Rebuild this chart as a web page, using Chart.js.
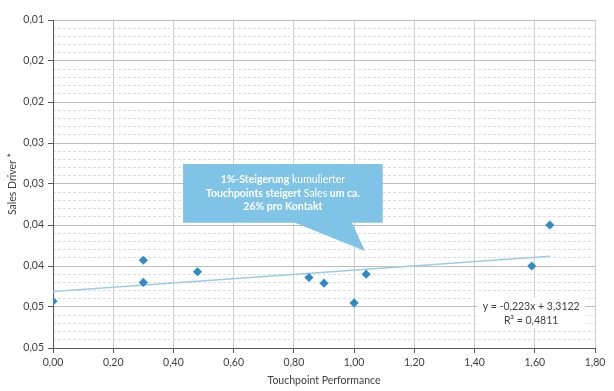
<!DOCTYPE html>
<html>
<head>
<meta charset="utf-8">
<script src="https://cdn.jsdelivr.net/npm/chart.js@4"></script>
<style>
  html, body { margin: 0; padding: 0; background: #fff; }
  #wrap { width: 614px; height: 391px; }
</style>
</head>
<body>
<div id="wrap"><canvas id="chart"></canvas></div>
<script>
// --- Daten ---
const touchpoints = [0.00, 0.30, 0.30, 0.48, 0.85, 0.90, 1.00, 1.04, 1.59, 1.65];
const salesDriver = [0.0443, 0.0393, 0.0420, 0.0407, 0.0414, 0.0421, 0.0445, 0.0410, 0.0400, 0.0350];

// lineare Trendlinie (Endpunkte)
const trendX = [0.00, 1.65];
const trendY = [0.0431, 0.0388];

const xTickLabels = ['0,00', '0,20', '0,40', '0,60', '0,80', '1,00', '1,20', '1,40', '1,60', '1,80'];
const yTickLabels = ['0,01', '0,02', '0,02', '0,03', '0,03', '0,04', '0,04', '0,05', '0,05'];

const calloutLines = [
  [['1%-Steigerung', true], [' kumulierter', false]],
  [['Touchpoints steigert', true], [' Sales', false], [' um ca.', true]],
  [['26% pro Kontakt', true]]
];
const equationLines = ['y = -0,223x + 3,3122', 'R\u00b2 = 0,4811'];

const FONT = 'Lato, "Open Sans", sans-serif';
const TEXT = '#404040';

// Sprechblase + Gleichung werden über die Skalen positioniert
const annotations = {
  id: 'annotations',
  afterDatasetsDraw(chart) {
    const { ctx } = chart;
    const xs = chart.scales.x, ys = chart.scales.y;
    const px = v => xs.getPixelForValue(v);
    const py = v => ys.getPixelForValue(v);

    // Gleichung + R²
    ctx.save();
    ctx.fillStyle = '#fff';
    ctx.fillRect(px(1.41), py(0.0439), px(1.767) - px(1.41), py(0.0476) - py(0.0439));
    ctx.fillStyle = TEXT;
    ctx.font = '10.5px ' + FONT;
    ctx.textAlign = 'center';
    ctx.textBaseline = 'middle';
    ctx.fillText(equationLines[0], px(1.588), py(0.0450));
    ctx.fillText(equationLines[1], px(1.588), py(0.0466));
    ctx.restore();

    // Sprechblase
    const l = px(0.432), r = px(1.095), t = py(0.02756), b = py(0.03472);
    const baseL = px(0.804), baseR = px(0.993);
    const tipX = px(1.036), tipY = py(0.03817);
    ctx.save();
    ctx.beginPath();
    ctx.moveTo(l, t);
    ctx.lineTo(r, t);
    ctx.lineTo(r, b);
    ctx.lineTo(baseR, b);
    ctx.lineTo(tipX, tipY);
    ctx.lineTo(baseL, b);
    ctx.lineTo(l, b);
    ctx.closePath();
    ctx.fillStyle = '#7fc3e7';
    ctx.fill();

    ctx.fillStyle = '#fff';
    ctx.textBaseline = 'middle';
    ctx.textAlign = 'left';
    const cx = (l + r) / 2;
    const lineH = 13.5;
    const y0 = (t + b) / 2 - lineH;
    calloutLines.forEach((segs, i) => {
      let w = 0;
      segs.forEach(([txt, bold]) => {
        ctx.font = (bold ? 'bold ' : '') + '10.5px ' + FONT;
        w += ctx.measureText(txt).width;
      });
      let x = cx - w / 2;
      segs.forEach(([txt, bold]) => {
        ctx.font = (bold ? 'bold ' : '') + '10.5px ' + FONT;
        ctx.fillText(txt, x, y0 + i * lineH);
        x += ctx.measureText(txt).width;
      });
    });
    ctx.restore();
  }
};

const points = touchpoints.map((x, i) => ({ x: x, y: salesDriver[i] }));
const trend = trendX.map((x, i) => ({ x: x, y: trendY[i] }));

new Chart(document.getElementById('chart'), {
  type: 'scatter',
  data: {
    datasets: [
      {
        label: 'Sales Driver',
        data: points,
        pointStyle: 'rectRot',
        pointRadius: 4.6,
        backgroundColor: '#2e8bc7',
        borderColor: '#2e8bc7',
        borderWidth: 0,
        order: 1
      },
      {
        type: 'line',
        label: 'Trend',
        data: trend,
        borderColor: '#9ccbe8',
        borderWidth: 1.5,
        pointRadius: 0,
        fill: false,
        tension: 0,
        order: 2
      }
    ]
  },
  options: {
    responsive: true,
    maintainAspectRatio: false,
    animation: false,
    layout: { padding: { top: 20, right: 19, left: 0, bottom: 0 } },
    plugins: {
      legend: { display: false },
      tooltip: { enabled: false }
    },
    scales: {
      x: {
        type: 'linear',
        min: 0,
        max: 1.8,
        ticks: {
          stepSize: 0.2,
          color: TEXT,
          font: { family: FONT, size: 10.5 },
          padding: 3,
          maxRotation: 0,
          callback: v => xTickLabels[Math.round(v / 0.2)]
        },
        grid: { color: '#d0d0d0', tickColor: '#595959', tickLength: 5 },
        border: { color: '#595959', width: 1 },
        title: {
          display: true,
          text: 'Touchpoint Performance',
          color: TEXT,
          font: { family: FONT, size: 10.5 },
          padding: { top: 4, bottom: 4 }
        },
        afterFit: s => { s.height = 43; }
      },
      yMinor: {
        type: 'linear',
        position: 'left',
        reverse: true,
        min: 0.01,
        max: 0.05,
        ticks: { stepSize: 0.001, display: false, autoSkip: false },
        grid: {
          color: c => (Math.round(c.tick.value * 1000) % 5 === 0 ? 'rgba(0,0,0,0)' : '#dcdcdc'),
          drawTicks: false
        },
        border: { display: false, dash: [3, 2] },
        afterFit: s => { s.width = 0; }
      },
      y: {
        type: 'linear',
        position: 'left',
        reverse: true,
        min: 0.01,
        max: 0.05,
        ticks: {
          stepSize: 0.005,
          color: TEXT,
          font: { family: FONT, size: 10.5 },
          padding: 4,
          callback: v => yTickLabels[Math.round((v - 0.01) / 0.005)]
        },
        grid: { color: '#bdbdbd', tickColor: '#595959', tickLength: 5 },
        border: { color: '#595959', width: 1 },
        title: {
          display: true,
          text: 'Sales Driver *',
          color: TEXT,
          font: { family: FONT, size: 10.5 },
          padding: { top: 6, bottom: 4 }
        },
        afterFit: s => { s.width = 53; }
      }
    }
  },
  plugins: [annotations]
});
</script>
</body>
</html>
